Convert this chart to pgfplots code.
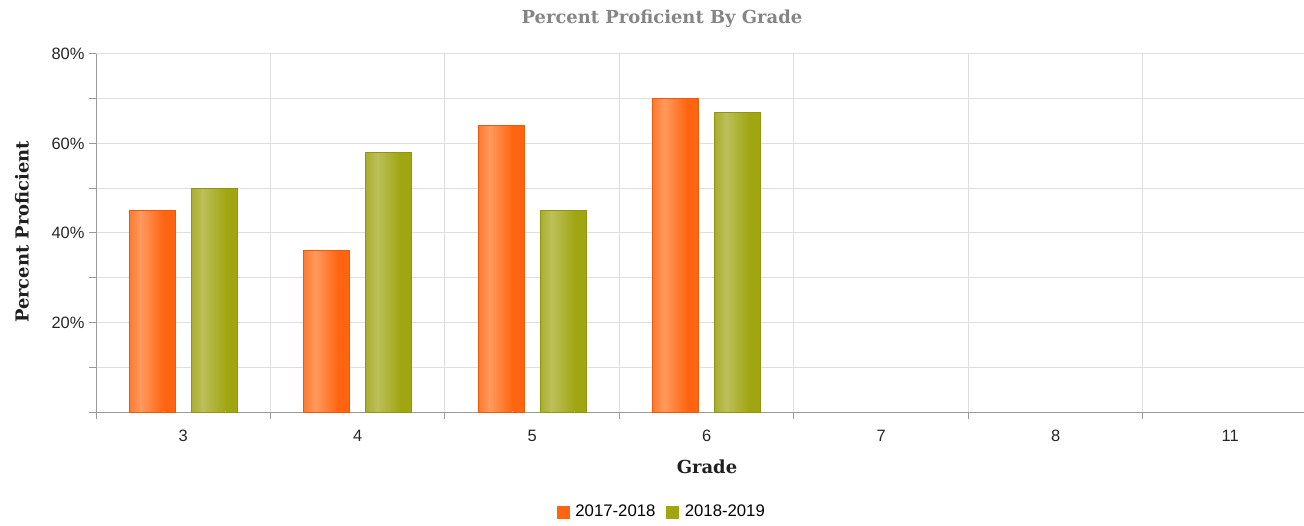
\documentclass[border=0pt]{standalone}
\usepackage{fontspec}
\usepackage{pgfplots}
\pgfplotsset{compat=1.18}
\setmainfont{Liberation Sans}
\newfontfamily\slab{DejaVu Serif}
\definecolor{oD}{HTML}{FF6410}
\definecolor{oS}{HTML}{FF7A30}
\definecolor{oL}{HTML}{FF9A5E}
\definecolor{oE}{HTML}{E85A0C}
\definecolor{gD}{HTML}{A0A612}
\definecolor{gS}{HTML}{AAAE2E}
\definecolor{gL}{HTML}{BCBF5A}
\definecolor{gE}{HTML}{8E9510}
\definecolor{gridc}{HTML}{DEDEDE}
\definecolor{axc}{HTML}{9A9A9A}
\pgfplotsset{
  part/.style={ybar, draw=none, forget plot},
  oA/.style={part, bar width=11.5bp, bar shift=-48.25bp, left color=oS, right color=oL},
  oB/.style={part, bar width=23bp, bar shift=-31bp, left color=oL, right color=oD},
  oC/.style={part, bar width=11.5bp, bar shift=-13.75bp, fill=oD},
  gA/.style={part, bar width=11.5bp, bar shift=13.75bp, left color=gS, right color=gL},
  gB/.style={part, bar width=23bp, bar shift=31bp, left color=gL, right color=gD},
  gC/.style={part, bar width=11.5bp, bar shift=48.25bp, fill=gD},
  oO/.style={ybar, bar width=46bp, bar shift=-31bp, draw=oE, fill=none, line width=1bp, forget plot},
  gO/.style={ybar, bar width=46bp, bar shift=31bp, draw=gE, fill=none, line width=1bp, forget plot},
}
\begin{document}
\begin{tikzpicture}
\path[use as bounding box] (0,0) rectangle (1304bp,526bp);
\begin{axis}[
  at={(96bp,114bp)}, anchor=south west,
  scale only axis, width=1208bp, height=358bp,
  xmin=-0.5, xmax=6.423, ymin=0, ymax=80,
  axis x line*=bottom, axis y line*=left,
  axis line style={axc, line width=1bp},
  xtick={0,...,6}, xticklabels={3,4,5,6,7,8,11},
  minor xtick={-0.5,0.5,...,6.5},
  ytick={20,40,60,80}, yticklabels={20\%,40\%,60\%,80\%},
  minor ytick={10,30,50,70},
  extra y ticks={0}, extra y tick labels={},
  extra y tick style={grid=none},
  xmajorgrids=false, xminorgrids=true,
  ymajorgrids=true, yminorgrids=true,
  grid style={gridc, line width=1bp},
  minor grid style={gridc, line width=1bp},
  tick align=outside,
  major tick length=7bp, minor tick length=7bp,
  x tick style={draw=none},
  minor x tick style={axc, line width=1bp, draw=axc},
  y tick style={axc, line width=1bp},
  minor y tick style={axc, line width=1bp},
  every tick label/.append style={font=\fontsize{16.5}{16.5}\selectfont, text=black!85},
  xticklabel style={yshift=-8bp},
  yticklabel style={xshift=-1bp},
  title={\slab\bfseries Percent Proficient By Grade},
  title style={at={(rel axis cs:0.4685,1.103)}, anchor=center, yshift=-8bp, font=\fontsize{18}{18}\selectfont, text=black!48},
  xlabel={\slab\bfseries Grade},
  xlabel style={at={(rel axis cs:0.5058,-0.154)}, anchor=center, font=\fontsize{18}{18}\selectfont, text=black!88},
  ylabel={\slab\bfseries Percent Proficient},
  ylabel style={at={(rel axis cs:-0.0613,0.503)}, anchor=center, rotate=0, font=\fontsize{18}{18}\selectfont, text=black!88},
  legend style={at={(rel axis cs:0.4685,-0.279)}, anchor=center, draw=none, fill=none,
    font=\fontsize{16.8}{16.8}\selectfont, legend columns=2,
    /tikz/every odd column/.append style={column sep=4bp},
    /tikz/every even column/.append style={column sep=9bp}},
  clip=false,
]
\addlegendimage{legend image code/.code={\fill[oD] (0bp,-6bp) rectangle (12bp,6bp);}}
\addlegendentry{2017-2018}
\addlegendimage{legend image code/.code={\fill[gD] (0bp,-6bp) rectangle (12bp,6bp);}}
\addlegendentry{2018-2019}
% 2017-2018: 45, 36, 64, 70
\addplot[oA] coordinates {(0,45)}; \addplot[oB] coordinates {(0,45)}; \addplot[oC] coordinates {(0,45)};
\addplot[oA] coordinates {(1,36)}; \addplot[oB] coordinates {(1,36)}; \addplot[oC] coordinates {(1,36)};
\addplot[oA] coordinates {(2,64)}; \addplot[oB] coordinates {(2,64)}; \addplot[oC] coordinates {(2,64)};
\addplot[oA] coordinates {(3,70)}; \addplot[oB] coordinates {(3,70)}; \addplot[oC] coordinates {(3,70)};
\addplot[oO] coordinates {(0,45) (1,36) (2,64) (3,70)};
% 2018-2019: 50, 58, 45, 67
\addplot[gA] coordinates {(0,50)}; \addplot[gB] coordinates {(0,50)}; \addplot[gC] coordinates {(0,50)};
\addplot[gA] coordinates {(1,58)}; \addplot[gB] coordinates {(1,58)}; \addplot[gC] coordinates {(1,58)};
\addplot[gA] coordinates {(2,45)}; \addplot[gB] coordinates {(2,45)}; \addplot[gC] coordinates {(2,45)};
\addplot[gA] coordinates {(3,67)}; \addplot[gB] coordinates {(3,67)}; \addplot[gC] coordinates {(3,67)};
\addplot[gO] coordinates {(0,50) (1,58) (2,45) (3,67)};
\end{axis}
\end{tikzpicture}
\end{document}
